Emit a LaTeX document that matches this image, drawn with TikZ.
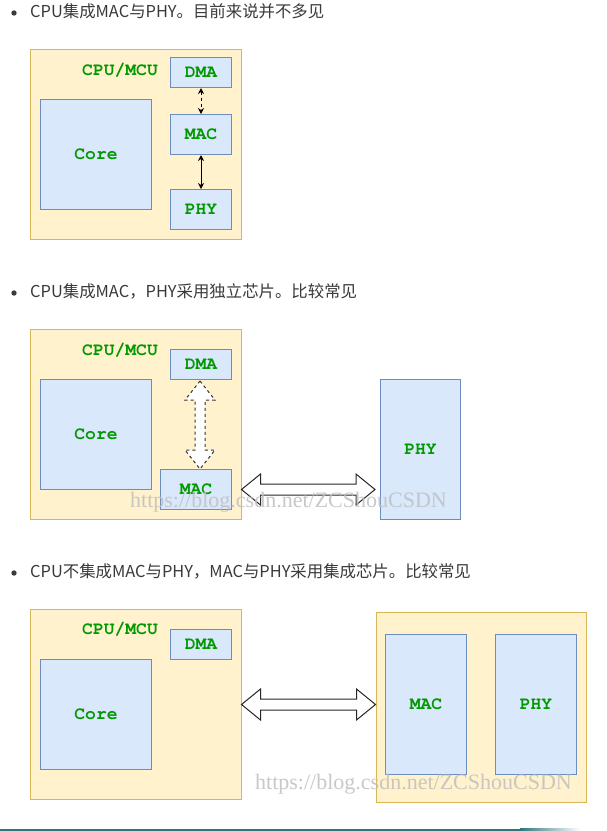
\documentclass[tikz,border=0pt]{standalone}
\usepackage{fontspec}
\usepackage{graphicx}
\setmainfont{Liberation Serif}
\setmonofont{TeX Gyre Cursor}
\newfontfamily\cjk{Noto Sans CJK SC}
\usetikzlibrary{calc,arrows.meta}
\definecolor{yfill}{HTML}{FFF2CC}
\definecolor{yline}{HTML}{D6B656}
\definecolor{bfill}{HTML}{DAE8FC}
\definecolor{bline}{HTML}{6C8EBF}
\definecolor{lgreen}{HTML}{009900}
\definecolor{txtgray}{HTML}{3A3A3A}
\definecolor{tealbar}{HTML}{2E767C}
\newcommand\labfont{\fontsize{18}{18}\selectfont\ttfamily\bfseries}
\newcommand\hbarrow[3][]{%
  \draw[barrow,#1] (#2) -- ($(#2)+(19,15.5)$) -- ($(#2)+(19,5.5)$) -- ($(#3)+(-19,5.5)$) -- ($(#3)+(-19,15.5)$) -- (#3)
    -- ($(#3)+(-19,-15.5)$) -- ($(#3)+(-19,-5.5)$) -- ($(#2)+(19,-5.5)$) -- ($(#2)+(19,-15.5)$) -- cycle;}
\newcommand\vbarrow[3][]{%
  \draw[barrow,#1] (#2) -- ($(#2)+(15,19)$) -- ($(#2)+(5,19)$) -- ($(#3)+(5,-19)$) -- ($(#3)+(15,-19)$) -- (#3)
    -- ($(#3)+(-15,-19)$) -- ($(#3)+(-5,-19)$) -- ($(#2)+(-5,19)$) -- ($(#2)+(-15,19)$) -- cycle;}
\begin{document}
\begin{tikzpicture}[x=1pt,y=-1pt,
  chip/.style={draw=yline, fill=yfill, line width=1pt, anchor=north west, inner sep=0pt},
  blk/.style={draw=bline, fill=bfill, line width=1pt, anchor=north west, inner sep=0pt, font=\labfont, text=lgreen},
  lab/.style={font=\labfont, text=lgreen, inner sep=0pt},
  bul/.style={font=\cjk\fontsize{16.4}{17}\selectfont, text=txtgray, inner sep=0pt, anchor=base west},
  barrow/.style={draw=black!85, fill=white, line width=1pt, line join=miter},
  smallarr/.style={draw=black, line width=1pt, {Stealth[length=6pt,width=6pt]}-{Stealth[length=6pt,width=6pt]}},
  wm/.style={font=\fontsize{22}{22}\selectfont, text=black!25, inner sep=0pt, anchor=base west, opacity=0.85}
]
\useasboundingbox (0,0) rectangle (606,831);
\fill[white] (0,0) rectangle (606,831);

% ---------- panel 1 ----------
\fill[txtgray] (14,13) circle (2.7);
\node[bul] (t1) at (30,17.5) {CPU集成MAC与PHY。目前来说并不多见};
\node[chip, minimum width=210.5, minimum height=190] (cpu1) at (30,49) {};
\node[lab] (l1) at (120,70) {CPU/MCU};
\node[blk, minimum width=61, minimum height=30] (dma1) at (170,57) {DMA};
\node[blk, minimum width=61, minimum height=40] (mac1) at (170,114) {MAC};
\node[blk, minimum width=61, minimum height=40] (phy1) at (170,189) {PHY};
\node[blk, minimum width=111, minimum height=110] (core1) at (40,99) {Core};
\draw[smallarr, dash pattern=on 3pt off 3pt] (dma1.south) -- (mac1.north);
\draw[smallarr] (mac1.south) -- (phy1.north);

% ---------- panel 2 ----------
\fill[txtgray] (14,293) circle (2.7);
\node[bul] (t2) at (30,297.5) {CPU集成MAC，PHY采用独立芯片。比较常见};
\node[chip, minimum width=210.5, minimum height=190] (cpu2) at (30,329) {};
\node[lab] (l2) at (120,350) {CPU/MCU};
\node[blk, minimum width=61, minimum height=30] (dma2) at (170,349) {DMA};
\node[blk, minimum width=111, minimum height=110] (core2) at (40,379) {Core};
\node[blk, minimum width=71, minimum height=40] (mac2) at (160,469) {MAC};
\node[blk, minimum width=80, minimum height=140] (phy2) at (380,379) {PHY};
\coordinate (v2t) at ($(dma2.south)+(-1,1)$);
\coordinate (v2b) at (v2t|-mac2.north);
\vbarrow[dash pattern=on 3pt off 3pt, draw=black!80]{v2t}{v2b}
\coordinate (h2l) at (cpu2.east|-mac2.east);
\coordinate (h2r) at ($(phy2.west|-mac2.east)+(-5,0)$);
\hbarrow{h2l}{h2r}

% ---------- panel 3 ----------
\fill[txtgray] (14,573) circle (2.7);
\node[bul] (t3) at (30,577.5) {CPU不集成MAC与PHY，MAC与PHY采用集成芯片。比较常见};
\node[chip, minimum width=210.5, minimum height=190] (cpu3) at (30,609) {};
\node[lab] (l3) at (120,629) {CPU/MCU};
\node[blk, minimum width=61, minimum height=30] (dma3) at (170,629) {DMA};
\node[blk, minimum width=111, minimum height=110] (core3) at (40,659) {Core};
\node[chip, minimum width=210, minimum height=190.5] (chip3) at (375.5,611.5) {};
\node[blk, minimum width=80.5, minimum height=140] (mac3) at (385.3,634) {MAC};
\node[blk, minimum width=80.5, minimum height=140] (phy3) at (495.3,634) {PHY};
\coordinate (h3l) at (cpu3.east|-mac3.west);
\coordinate (h3r) at (chip3.west|-mac3.west);
\hbarrow{h3l}{h3r}

% ---------- watermarks ----------
\node[wm] (w2) at (130,507) {https://blog.csdn.net/ZCShouCSDN};
\node[wm] (w3) at (255,789) {https://blog.csdn.net/ZCShouCSDN};

% ---------- bottom bar ----------
\fill[tealbar] (0,828.5) rectangle (520,831);
\shade[left color=tealbar, right color=white] (520,828.5) rectangle (580,831);
\end{tikzpicture}
\end{document}
